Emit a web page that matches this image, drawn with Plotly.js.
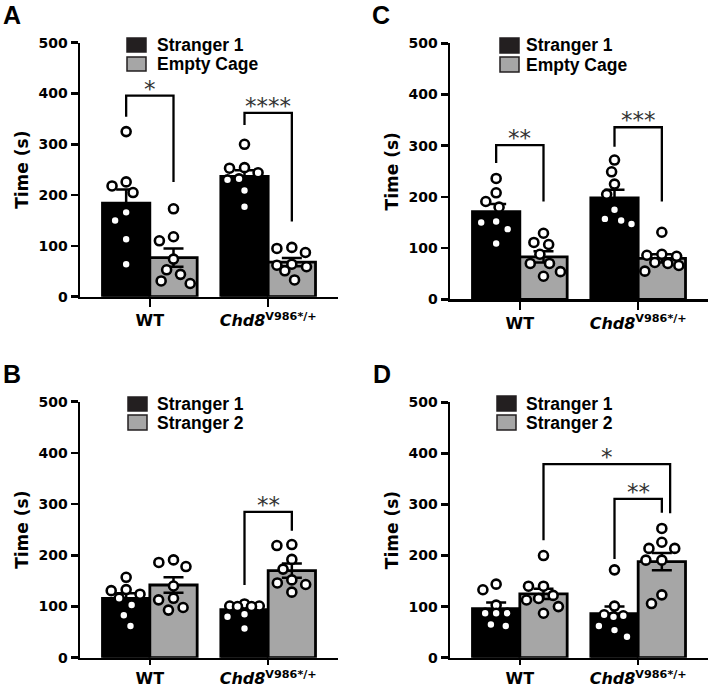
<!DOCTYPE html>
<html><head><meta charset="utf-8">
<script src="https://cdn.plot.ly/plotly-3.0.1.min.js"></script>
<style>html,body{margin:0;padding:0;background:#fff}</style>
</head><body><div id="chart" style="width:709px;height:689px"></div>
<script>
// ---------- DATA ----------
const groupIndex = [0, 1];
const tickLabels = ["<b>WT</b>", "<b><i>Chd8</i><sup>V986*/+</sup></b>"];
const yTicks = [0, 100, 200, 300, 400, 500];

// Panel A : Stranger 1 vs Empty Cage (sociability, 1st)
const A_series = ["Stranger 1", "Empty Cage"];
const A_mean1 = [184, 237];
const A_sem1 = [27, 12];
const A_mean2 = [77, 68];
const A_sem2 = [18, 8];
const A_pts1 = [[325, 226, 218, 205, 166, 150, 113, 64], [300, 254, 253, 244, 232, 230, 209, 177]];
const A_pts2 = [[173, 118, 110, 74, 53, 44, 31, 26], [97, 95, 87, 64, 62, 59, 51, 33]];
// [group, series, group, series, yFrom, yTop, yTo, label]
const A_sig = [[0, 0, 0, 1, 354, 396, 226, "*"], [1, 0, 1, 1, 338, 362, 148, "****"]];

// Panel C : Stranger 1 vs Empty Cage (2nd)
const C_series = ["Stranger 1", "Empty Cage"];
const C_mean1 = [171, 198];
const C_sem1 = [15, 16];
const C_mean2 = [83, 80];
const C_sem2 = [11, 8];
const C_pts1 = [[236, 208, 191, 180, 152, 150, 137, 109], [272, 249, 225, 205, 175, 157, 154, 147]];
const C_pts2 = [[129, 111, 107, 88, 70, 70, 54, 45], [131, 88, 86, 84, 72, 70, 66, 55]];
const C_sig = [[0, 0, 0, 1, 266, 301, 191, "**"], [1, 0, 1, 1, 298, 336, 191, "***"]];

// Panel B : Stranger 1 vs Stranger 2 (social novelty, 1st)
const B_series = ["Stranger 1", "Stranger 2"];
const B_mean1 = [116, 94];
const B_sem1 = [10, 6];
const B_mean2 = [142, 170];
const B_sem2 = [15, 14];
const B_pts1 = [[157, 133, 131, 124, 116, 103, 83, 62], [105, 101, 101, 100, 100, 85, 80, 57]];
const B_pts2 = [[191, 186, 178, 140, 116, 113, 98, 93], [221, 219, 192, 173, 152, 146, 143, 128]];
const B_sig = [[1, 0, 1, 1, 142, 285, 248, "**"]];

// Panel D : Stranger 1 vs Stranger 2 (2nd)
const D_series = ["Stranger 1", "Stranger 2"];
const D_mean1 = [96, 86];
const D_sem1 = [12, 14];
const D_mean2 = [125, 188];
const D_sem2 = [10, 17];
const D_pts1 = [[144, 133, 103, 87, 87, 87, 65, 62], [172, 101, 84, 82, 80, 62, 54, 41]];
const D_pts2 = [[200, 140, 140, 122, 116, 113, 100, 87], [253, 226, 214, 214, 191, 191, 123, 106]];
const D_sig = [[1, 0, 1, 1, 193, 311, 284, "**"], [0, 1, 1, 1, 230, 379, 283, "*"]];

// ---------- LAYOUT HELPERS ----------
const W = 709, H = 689;
const XR = [-0.59, 1.59];
const BLACK = "#000000", GRAY = "#a6a6a6";
const fontTick = {family: "DejaVu Sans", size: 14, color: "#000", weight: "bold"};
const fontCat = {family: "DejaVu Sans", size: 16, color: "#000", weight: "bold"};
const fontTitle = {family: "DejaVu Sans", size: 17, color: "#000", weight: "bold"};
const fontLeg = {family: "Liberation Sans, Arial, sans-serif", size: 17.5, color: "#000", weight: "bold"};
const fontStar = {family: "DejaVu Sans", size: 23, color: "#333"};

// panel pixel frames: [xLeft, xRight, yZero, yTop500]
const frames = {
  A: [80, 338, 296.7, 42.7],
  C: [450, 708, 299.3, 43.3],
  B: [80, 338, 657.7, 401.7],
  D: [450, 708, 657.7, 402.3]
};
const panels = [
  {id: "A", ax: "", tl: 8, series: A_series, m1: A_mean1, s1: A_sem1, m2: A_mean2, s2: A_sem2, p1: A_pts1, p2: A_pts2, sig: A_sig},
  {id: "C", ax: "2", tl: 8, series: C_series, m1: C_mean1, s1: C_sem1, m2: C_mean2, s2: C_sem2, p1: C_pts1, p2: C_pts2, sig: C_sig},
  {id: "B", ax: "3", tl: 5, series: B_series, m1: B_mean1, s1: B_sem1, m2: B_mean2, s2: B_sem2, p1: B_pts1, p2: B_pts2, sig: B_sig},
  {id: "D", ax: "4", tl: 5, series: D_series, m1: D_mean1, s1: D_sem1, m2: D_mean2, s2: D_sem2, p1: D_pts1, p2: D_pts2, sig: D_sig}
];

const BARW = 0.4;
function barCenter(g, s) { return g + (s === 0 ? -BARW / 2 : BARW / 2); }

// scatter-dot layout (pixel space, elliptical spacing, kept inside the bar) -> x in data units
function swarm(vals, center, pxX, pxY) {
  const DX = 15, DY = 12, MAXOFF = 17;
  const order = vals.map((v, i) => i).sort((a, b) => vals[b] - vals[a]);
  const placed = [];
  const xs = new Array(vals.length);
  const score = (c, y) => placed.reduce((m, p) => Math.min(m, Math.hypot((p.x - c) / DX, (p.y - y) / DY)), Infinity);
  order.forEach(i => {
    const y = vals[i] * pxY;
    const cands = [0];
    placed.forEach(p => {
      const dy = Math.abs(p.y - y);
      if (dy < DY) { const dx = DX * Math.sqrt(1 - (dy / DY) * (dy / DY)); cands.push(p.x - dx, p.x + dx); }
    });
    let ok = cands.filter(c => Math.abs(c) <= MAXOFF && score(c, y) >= 1 - 1e-6);
    let best;
    if (ok.length) {
      ok.sort((a, b) => Math.abs(a) - Math.abs(b));
      best = ok[0];
    } else {
      best = 0; let bs = -1;
      for (let c = -MAXOFF; c <= MAXOFF; c += 1) { const s = score(c, y); if (s > bs + 1e-9) { bs = s; best = c; } }
    }
    placed.push({x: best, y: y});
    xs[i] = center + best / pxX;
  });
  return xs;
}

const data = [];
const layout = {
  width: W, height: H,
  margin: {l: 0, r: 0, t: 0, b: 0},
  paper_bgcolor: "#fff", plot_bgcolor: "rgba(0,0,0,0)",
  showlegend: false, barmode: "overlay",
  shapes: [], annotations: []
};

panels.forEach(P => {
  const f = frames[P.id];
  const xa = "x" + P.ax, ya = "y" + P.ax;
  const pxX = (f[1] - f[0]) / (XR[1] - XR[0]);
  const pxY = (f[2] - f[3]) / 500;

  layout["xaxis" + P.ax] = {
    domain: [f[0] / W, f[1] / W], range: XR, anchor: ya,
    showline: true, linecolor: "#000", linewidth: 2.5,
    ticks: "outside", ticklen: P.tl, tickwidth: 2.5, tickcolor: "#000",
    tickvals: groupIndex, ticktext: tickLabels, tickfont: fontCat,
    showgrid: false, zeroline: false, fixedrange: true
  };
  layout["yaxis" + P.ax] = {
    domain: [1 - f[2] / H, 1 - f[3] / H], range: [0, 500], anchor: xa,
    showline: true, linecolor: "#000", linewidth: 2.5,
    ticks: "outside", ticklen: 7, tickwidth: 2.5, tickcolor: "#000",
    tickvals: yTicks, tickfont: fontTick,
    title: {text: "<b>Time (s)</b>", font: fontTitle, standoff: 6},
    showgrid: false, zeroline: false, fixedrange: true
  };

  const mk = (means, sems, s, color, name) => ({
    type: "bar", x: groupIndex, y: means, name: name,
    xaxis: xa, yaxis: ya, width: BARW, offset: s === 0 ? -BARW : 0,
    marker: {color: color, line: {color: "#000", width: 2.8}},
    error_y: {type: "data", array: sems, visible: true, color: "#000", thickness: 2.5, width: 10},
    hoverinfo: "skip"
  });
  data.push(mk(P.m1, P.s1, 0, BLACK, P.series[0]));
  data.push(mk(P.m2, P.s2, 1, GRAY, P.series[1]));

  [P.p1, P.p2].forEach((pts, s) => {
    pts.forEach((vals, g) => {
      data.push({
        type: "scatter", mode: "markers", xaxis: xa, yaxis: ya,
        x: swarm(vals, barCenter(g, s), pxX, pxY), y: vals,
        marker: {size: 9, color: "#fff", line: {color: "#000", width: 2.6}},
        cliponaxis: false, hoverinfo: "skip"
      });
    });
  });

  // significance brackets
  P.sig.forEach(b => {
    let x1 = barCenter(b[0], b[1]), x2 = barCenter(b[2], b[3]);
    if (b[0] !== b[2]) x2 += 0.07; // outer bracket leg nudged right
    layout.shapes.push({
      type: "path", xref: xa, yref: ya,
      path: `M ${x1},${b[4]} L ${x1},${b[5]} L ${x2},${b[5]} L ${x2},${b[6]}`,
      line: {color: "#000", width: 2.3}
    });
    layout.annotations.push({
      xref: xa, yref: ya, x: (x1 + x2) / 2, y: b[5], text: b[7],
      showarrow: false, font: fontStar, xanchor: "center", yanchor: "bottom", yshift: -8
    });
  });
});

// manual legends (pixel frames)
const legends = [
  {sq: 127, tx: 155, y1: [38, 52], y2: [57, 71], labels: A_series},
  {sq: 500, tx: 524, y1: [38, 53], y2: [57, 72], labels: C_series},
  {sq: 128, tx: 155, y1: [397, 411], y2: [415, 430], labels: B_series},
  {sq: 497, tx: 524, y1: [396, 411], y2: [415, 430], labels: D_series}
];
legends.forEach(L => {
  [[L.y1, "#231f20"], [L.y2, GRAY]].forEach((e, k) => {
    const yy = e[0];
    layout.shapes.push({
      type: "rect", xref: "paper", yref: "paper",
      x0: L.sq / W, x1: (L.sq + 19) / W, y0: 1 - yy[1] / H, y1: 1 - yy[0] / H,
      fillcolor: e[1], line: {color: "#231f20", width: 1.5}
    });
    layout.annotations.push({
      xref: "paper", yref: "paper", x: L.tx / W, y: 1 - ((yy[0] + yy[1]) / 2) / H,
      xanchor: "left", yanchor: "middle", text: "<b>" + L.labels[k] + "</b>",
      showarrow: false, font: fontLeg
    });
  });
});

// panel letters
[["A", 1, 15], ["C", 370, 15], ["B", 1, 373.5], ["D", 371, 373.5]].forEach(p => {
  layout.annotations.push({
    xref: "paper", yref: "paper", x: p[1] / W, y: 1 - p[2] / H,
    xanchor: "left", yanchor: "middle", text: "<b>" + p[0] + "</b>",
    showarrow: false, font: {family: "Liberation Sans, Arial, sans-serif", size: 25, color: "#000", weight: "bold"}
  });
});

Plotly.newPlot("chart", data, layout, {displayModeBar: false, staticPlot: true});
</script></body></html>
